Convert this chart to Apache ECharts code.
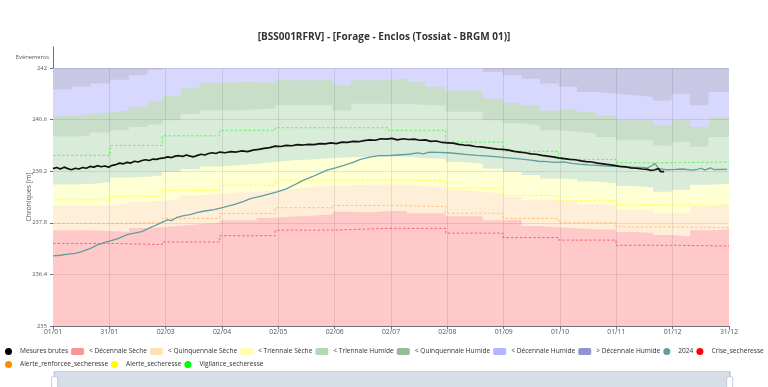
<!DOCTYPE html>
<html>
<head>
<meta charset="utf-8">
<script src="https://cdn.jsdelivr.net/npm/echarts@6/dist/echarts.min.js"></script>
<style>
html,body{margin:0;padding:0;background:#fff;}
#chart{width:768px;height:387px;}
</style>
</head>
<body>
<div id="chart"></div>
<script>
// ---------- DATA ----------
const titleText = "[BSS001RFRV] - [Forage - Enclos (Tossiat - BRGM 01)]";
const yBase = 235;
const xTickLabels = ["01/01","31/01","02/03","02/04","02/05","02/06","02/07","02/08","01/09","01/10","01/11","01/12","31/12"];
const monthStarts = [0,31,59,90,120,151,181,212,243,273,304,334];
const yearEnd = 365;

const bandNames = ["< Décennale Sèche","< Quinquennale Sèche","< Triennale Sèche","< Triennale Humide","< Quinquennale Humide","< Décennale Humide","> Décennale Humide"];
const bandLegendColors = ["#FF9393","#FFE1B5","#FFFFAD","#B5D7B5","#93BD93","#B3B3FF","#9393CD"];
const bandFillColors = ["#FFC9C9","#FFEFD9","#FFFFD4","#D9EBD9","#C8DEC8","#D8D8FF","#C8C8E5"];

// upper limit of each band, per decade (3 per month)
const decSecheTop = [237.60,237.60,237.58,237.56,237.66,237.68,237.72,237.76,237.80, 237.87,237.86,237.94,237.97,237.99,238.03,238.10,238.08,238.12, 238.12,238.06,238.05,237.98,237.98,237.87,237.88,237.71,237.68, 237.65,237.62,237.62,237.55,237.53,237.47,237.43,237.60,237.62];
const quinqSecheTop = [238.27,238.27,238.27,238.32,238.38,238.40,238.45,238.55,238.58, 238.62,238.64,238.68,238.72,238.77,238.80,238.82,238.83,238.84, 238.83,238.80,238.76,238.69,238.64,238.60,238.51,238.42,238.42, 238.37,238.30,238.28,238.15,238.15,238.06,238.06,238.25,238.28];
const trienSecheTop = [238.84,238.85,238.90,239.03,239.05,239.08,239.18,239.25,239.33, 239.36,239.40,239.45,239.50,239.52,239.56,239.58,239.59,239.60, 239.59,239.55,239.54,239.45,239.40,239.27,239.18,239.10,239.00, 238.98,238.92,238.87,238.80,238.76,238.64,238.70,238.83,238.86];
const trienHumTop = [240.14,240.16,240.25,240.32,240.40,240.47,240.58,240.75,240.85, 240.85,240.88,240.90,240.99,240.99,240.99,240.85,241.03,241.03, 241.02,241.00,240.98,240.81,240.81,240.58,240.50,240.45,240.31, 240.27,240.22,240.13,240.04,240.04,239.90,239.99,239.86,240.13];
const quinqHumTop = [240.70,240.75,240.80,240.85,240.95,241.10,241.25,241.45,241.60, 241.62,241.62,241.60,241.67,241.67,241.67,241.53,241.67,241.67, 241.71,241.62,241.50,241.39,241.39,241.17,241.05,240.99,240.85, 240.90,240.81,240.72,240.58,240.58,240.45,240.58,240.40,240.67];
const decHumTop = [241.42,241.50,241.58,241.68,241.80,241.95,242.10,242.25,242.30, 242.30,242.30,242.30,242.30,242.30,242.30,242.30,242.30,242.30, 242.20,242.15,242.10,242.05,242.00,241.89,241.80,241.71,241.58, 241.49,241.35,241.30,241.26,241.21,241.12,241.30,240.99,241.35];
const supDecHumTop = [243,243,243,243,243,243,243,243,243, 243,243,243,243,243,243,243,243,243, 243,243,243,243,243,243,243,243,243, 243,243,243,243,243,243,243,243,243];

// monthly drought thresholds
const criseVals = [237.24,237.21,237.28,237.45,237.60,237.65,237.65,237.52,237.40,237.33,237.19,237.17];
const alerteRenfVals = [237.78,237.80,237.92,238.05,238.21,238.27,238.24,238.06,237.92,237.80,237.69,237.67];
const alerteVals = [238.42,238.52,238.68,238.82,238.96,238.96,238.95,238.74,238.54,238.40,238.29,238.28];
const vigilanceVals = [239.63,239.90,240.16,240.31,240.38,240.38,240.31,239.99,239.74,239.52,239.43,239.45];

// 2024 chronicle
const y2024Days = [0,4,8,12,15,20,24,28,31,35,40,44,48,52,55,59,62,64,67,70,74,78,82,87,92,98,103,107,112,116,121,126,130,135,140,144,148,153,157,162,166,171,176,181,186,192,197,200,203,208,213,218,224,229,235,240,244,249,253,258,262,267,271,276,280,284,289,294,299,304,309,313,318,321,323,325,327,331,336,340,345,348,350,352,355,357,360,364];
const y2024Vals = [236.90,236.92,236.95,236.97,237.01,237.10,237.20,237.27,237.31,237.37,237.48,237.52,237.56,237.66,237.72,237.82,237.88,237.86,237.95,237.99,238.02,238.08,238.12,238.16,238.22,238.30,238.38,238.46,238.52,238.57,238.64,238.72,238.82,238.95,239.05,239.14,239.23,239.30,239.36,239.44,239.52,239.58,239.62,239.62,239.64,239.66,239.70,239.67,239.72,239.71,239.70,239.68,239.65,239.63,239.61,239.59,239.57,239.55,239.53,239.50,239.47,239.46,239.44,239.45,239.41,239.39,239.37,239.36,239.34,239.33,239.32,239.31,239.30,239.29,239.34,239.41,239.27,239.24,239.25,239.26,239.23,239.25,239.28,239.23,239.29,239.24,239.25,239.25];

// raw measurements
const mesDays = [0,2,4,6,8,10,12,14,16,18,20,22,24,26,28,30,32,34,36,38,40,42,44,46,48,50,52,54,56,58,60,62,64,66,68,70,72,74,76,78,80,82,84,86,88,90,93,96,99,102,105,108,111,114,117,120,123,126,129,132,135,138,141,144,147,150,153,156,159,162,165,168,171,174,177,180,183,186,189,192,195,198,201,204,207,210,213,216,219,222,225,228,231,234,237,240,243,246,249,252,255,258,261,264,267,270,273,276,279,282,285,288,291,294,297,300,303,306,309,312,315,318,321,323,325,326,327,328,329,330];
const mesVals = [239.27,239.30,239.26,239.31,239.27,239.24,239.28,239.26,239.30,239.28,239.33,239.31,239.35,239.32,239.34,239.31,239.36,239.38,239.42,239.40,239.44,239.42,239.47,239.45,239.49,239.51,239.49,239.53,239.52,239.55,239.56,239.59,239.57,239.61,239.62,239.60,239.64,239.61,239.59,239.63,239.66,239.64,239.68,239.70,239.68,239.72,239.70,239.73,239.72,239.75,239.73,239.77,239.79,239.82,239.84,239.88,239.87,239.90,239.89,239.92,239.91,239.93,239.92,239.95,239.94,239.97,239.95,239.99,239.98,240.01,240.00,240.03,240.05,240.04,240.08,240.07,240.09,240.05,240.08,240.06,240.07,240.04,240.05,240.01,240.02,239.98,239.97,239.96,239.93,239.91,239.90,239.87,239.86,239.84,239.82,239.80,239.79,239.77,239.74,239.72,239.70,239.67,239.66,239.63,239.61,239.59,239.56,239.54,239.52,239.51,239.48,239.46,239.45,239.42,239.40,239.38,239.36,239.33,239.32,239.29,239.28,239.26,239.25,239.22,239.24,239.20,239.27,239.19,239.23,239.19];

// ---------- BUILD ----------
const FONT = "'Open Sans', 'Noto Sans', sans-serif";
const bandTops = [decSecheTop, quinqSecheTop, trienSecheTop, trienHumTop, quinqHumTop, decHumTop, supDecHumTop];
const decadeDays = monthStarts.flatMap(d => [d, d + 10, d + 20]);
const monthInterval = yearEnd / 12;
const yInterval = 1.4, yMax = 7;

function stepData(days, vals) {
  const out = days.map((d, i) => [d, vals[i] - yBase]);
  out.push([yearEnd, vals[vals.length - 1] - yBase]);
  return out;
}

// grid lines drawn above the opaque bands
const gridMarks = [];
for (let k = 1; k < 12; k++) gridMarks.push({ xAxis: k * monthInterval });
for (let k = 1; k * yInterval <= yMax + 1e-9; k++) gridMarks.push({ yAxis: k * yInterval });

const series = [];
// bands: highest first so lower bands paint over it
for (let k = bandTops.length - 1; k >= 0; k--) {
  const s = {
    name: bandNames[k], type: 'line', step: 'end',
    showSymbol: false, silent: true, z: 1,
    color: bandLegendColors[k],
    lineStyle: { width: 0 },
    areaStyle: { color: bandFillColors[k], opacity: 1, origin: 'start' },
    data: stepData(decadeDays, bandTops[k])
  };
  if (k === 0) {
    s.markLine = {
      silent: true, symbol: ['none', 'none'], label: { show: false }, animation: false,
      lineStyle: { color: 'rgba(0,0,0,0.09)', type: 'solid', width: 1 },
      emphasis: { disabled: true },
      data: gridMarks
    };
  }
  series.push(s);
}

const thresholds = [
  ["Crise_secheresse", criseVals, "#FF0000", 0.5],
  ["Alerte_renforcee_secheresse", alerteRenfVals, "#FF8C00", 0.45],
  ["Alerte_secheresse", alerteVals, "#FFFF00", 0.75],
  ["Vigilance_secheresse", vigilanceVals, "#00FF00", 0.55]
];
thresholds.forEach(([name, vals, col, op]) => {
  series.push({
    name, type: 'line', step: 'end', showSymbol: false, z: 6,
    color: col,
    lineStyle: { width: 1, type: [2.5, 2], color: col, opacity: op },
    data: stepData(monthStarts, vals)
  });
});

series.push({
  name: '2024', type: 'line', showSymbol: false, z: 7, color: '#5F9EA0',
  lineStyle: { width: 1.3, color: '#5F9EA0' },
  data: y2024Days.map((d, i) => [d, y2024Vals[i] - yBase])
});
series.push({
  name: 'Mesures brutes', type: 'line', showSymbol: false, z: 8, color: '#000000',
  lineStyle: { width: 1.7, color: '#111111' },
  data: mesDays.map((d, i) => [d, mesVals[i] - yBase])
});

const legendRow1 = [{name:'Mesures brutes', icon:'circle'}]
  .concat(bandNames.map(n => ({name:n, icon:'roundRect'})))
  .concat([{name:'2024',icon:'circle'},{name:'Crise_secheresse',icon:'circle'}]);
const legendRow2 = [{name:'Alerte_renforcee_secheresse',icon:'circle'},{name:'Alerte_secheresse',icon:'circle'},{name:'Vigilance_secheresse',icon:'circle'}];

const axisGrey = '#6E7079';
const legendCommon = {
  left: 5, itemWidth: 13, itemHeight: 7, itemGap: 3, padding: 0,
  textStyle: { fontSize: 6.6, color: '#333', fontFamily: FONT }
};

const option = {
  animation: false,
  textStyle: { fontFamily: FONT },
  title: {
    text: titleText, left: 'center', top: 27,
    textStyle: { fontSize: 10, fontWeight: 'bold', color: '#333', fontFamily: FONT }
  },
  legend: [
    Object.assign({ data: legendRow1, top: 348 }, legendCommon),
    Object.assign({ data: legendRow2, top: 361 }, legendCommon)
  ],
  grid: [
    { left: 53, right: 39, top: 68, bottom: 61 },
    { left: 53, right: 39, top: 47, height: 21 }
  ],
  xAxis: [
    {
      type: 'value', gridIndex: 0, min: 0, max: yearEnd, interval: monthInterval,
      axisLine: { lineStyle: { color: axisGrey } },
      axisTick: { length: 3, lineStyle: { color: axisGrey } },
      axisLabel: { fontSize: 6.8, margin: 3, color: '#555', fontFamily: FONT,
        formatter: v => xTickLabels[Math.round(v / monthInterval)] || '' },
      splitLine: { show: false }
    },
    { type: 'value', gridIndex: 1, min: 0, max: yearEnd, show: false }
  ],
  yAxis: [
    {
      type: 'value', gridIndex: 0, min: 0, max: yMax, interval: yInterval,
      name: 'Chroniques [m]', nameLocation: 'middle', nameGap: 20, nameMoveOverlap: false,
      nameTextStyle: { fontSize: 6.8, color: '#555', fontFamily: FONT },
      axisLine: { show: true, lineStyle: { color: axisGrey } },
      axisTick: { show: true, length: 3, lineStyle: { color: axisGrey } },
      axisLabel: { fontSize: 5.8, margin: 6, color: '#555', fontFamily: FONT,
        formatter: v => String(Math.round((v + yBase) * 10) / 10) },
      splitLine: { show: false }
    },
    {
      type: 'value', gridIndex: 1, min: 0, max: 1,
      name: 'Evénements', nameLocation: 'middle', nameRotate: 0, nameGap: 4,
      nameTextStyle: { fontSize: 5.8, color: '#555', fontFamily: FONT },
      axisLine: { show: true, lineStyle: { color: axisGrey } },
      axisTick: { show: false }, axisLabel: { show: false }, splitLine: { show: false }
    }
  ],
  dataZoom: [{
    type: 'slider', xAxisIndex: 0, left: 53, right: 38, top: 371, height: 30,
    showDetail: false, filterMode: 'none', brushSelect: false, showDataShadow: false,
    backgroundColor: 'rgba(0,0,0,0)', borderColor: '#cfd6e2',
    fillerColor: 'rgba(150,165,190,0.38)'
  }],
  series
};

const chart = echarts.init(document.getElementById('chart'), null, { renderer: 'canvas' });
chart.setOption(option);
</script>
</body>
</html>
